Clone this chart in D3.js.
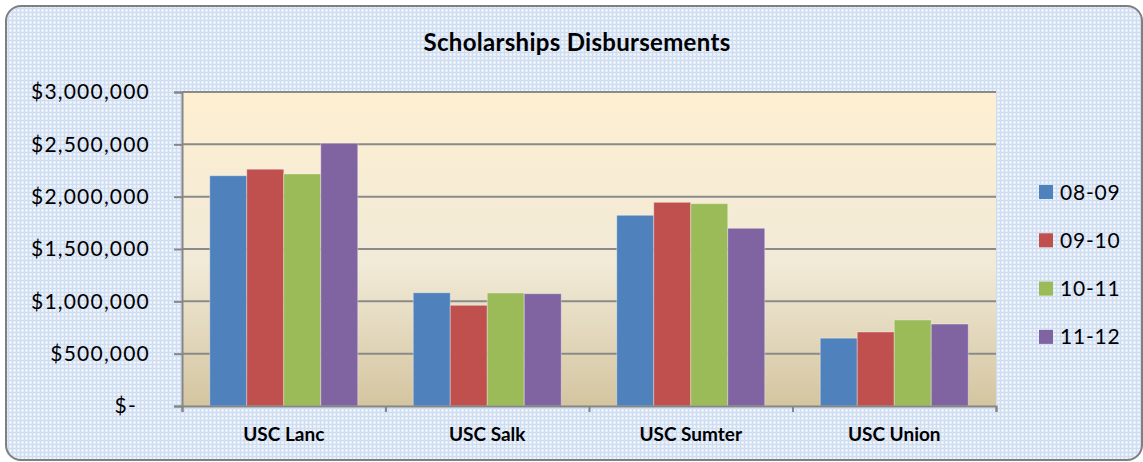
<!DOCTYPE html>
<html>
<head>
<meta charset="utf-8">
<script src="https://cdn.jsdelivr.net/npm/d3@7"></script>
<style>
  body { margin: 0; background: #fff; }
  text { font-family: Lato, "Open Sans", sans-serif; fill: #000; }
</style>
</head>
<body>
<div id="chart"></div>
<script>
// chart data
var categories = ["USC Lanc", "USC Salk", "USC Sumter", "USC Union"];
var seriesNames = ["08-09", "09-10", "10-11", "11-12"];
var values0809 = [2200000, 1082000, 1822000, 648000];
var values0910 = [2262000, 962000, 1946000, 707000];
var values1011 = [2217000, 1080000, 1933000, 822000];
var values1112 = [2510000, 1073000, 1698000, 783000];
var yTickValues = [0, 500000, 1000000, 1500000, 2000000, 2500000, 3000000];
var colors = ["#4F81BD", "#C0504D", "#9BBB59", "#8064A2"];

var seriesValues = [values0809, values0910, values1011, values1112];

var svgWidth = 1143;
var svgHeight = 462;

// plot area edges
var margin = { top: 92, right: 147, bottom: 56, left: 182 };
var width = svgWidth - margin.left - margin.right;
var height = svgHeight - margin.top - margin.bottom;

var svg = d3.select("#chart")
  .append("svg")
  .attr("width", svgWidth)
  .attr("height", svgHeight);

var defs = svg.append("defs");

// checked blue background
var pat = defs.append("pattern")
  .attr("id", "check")
  .attr("width", 4)
  .attr("height", 4)
  .attr("patternUnits", "userSpaceOnUse");
pat.append("rect").attr("width", 4).attr("height", 4).attr("fill", "#E4ECF8");
pat.append("rect").attr("width", 4).attr("height", 1).attr("fill", "#CFDDF2");
pat.append("rect").attr("width", 1).attr("height", 4).attr("fill", "#CFDDF2");
pat.append("rect").attr("x", 2).attr("y", 2).attr("width", 1).attr("height", 1).attr("fill", "#FFFFFF");

// plot area gradient
var grad = defs.append("linearGradient")
  .attr("id", "plotGrad")
  .attr("x1", 0).attr("y1", 0).attr("x2", 0).attr("y2", 1);
grad.append("stop").attr("offset", "0%").attr("stop-color", "#FEEFD1");
grad.append("stop").attr("offset", "55%").attr("stop-color", "#F1EAD7");
grad.append("stop").attr("offset", "100%").attr("stop-color", "#D4C5A0");

// chart frame
svg.append("rect")
  .attr("x", 6)
  .attr("y", 6)
  .attr("width", 1136)
  .attr("height", 454)
  .attr("rx", 15)
  .attr("fill", "url(#check)")
  .attr("stroke", "#7F7F7F")
  .attr("stroke-width", 2);

var chartGroup = svg.append("g")
  .attr("transform", `translate(${margin.left}, ${margin.top})`);

chartGroup.append("rect")
  .attr("width", width)
  .attr("height", height)
  .attr("fill", "url(#plotGrad)");

// scales
var x0 = d3.scaleBand()
  .domain(categories)
  .range([0, width])
  .padding(0);

var x1 = d3.scaleBand()
  .domain(seriesNames)
  .range([0, x0.bandwidth()])
  .paddingInner(0)
  .paddingOuter(0.75);

var yLinearScale = d3.scaleLinear()
  .domain([0, 3000000])
  .range([height, 0]);

// gridlines
chartGroup.append("g")
  .selectAll("line")
  .data(yTickValues.slice(1))
  .enter()
  .append("line")
  .attr("x1", 0)
  .attr("x2", width)
  .attr("y1", d => yLinearScale(d))
  .attr("y2", d => yLinearScale(d))
  .attr("stroke", "#8A8A8A")
  .attr("stroke-width", 2);

// bars
var rows = categories.map(function(c, i) {
  return seriesNames.map(function(s, j) {
    return { category: c, series: s, value: seriesValues[j][i], color: colors[j] };
  });
});

chartGroup.selectAll("g.cluster")
  .data(rows)
  .enter()
  .append("g")
  .attr("class", "cluster")
  .attr("transform", (d, i) => `translate(${x0(categories[i])}, 0)`)
  .selectAll("rect")
  .data(d => d)
  .enter()
  .append("rect")
  .attr("x", d => x1(d.series))
  .attr("y", d => yLinearScale(d.value))
  .attr("width", x1.bandwidth())
  .attr("height", d => height - yLinearScale(d.value))
  .attr("fill", d => d.color)
  .attr("stroke", "rgba(255,255,255,0.35)")
  .attr("stroke-width", 1);

// y axis
var yAxis = d3.axisLeft(yLinearScale)
  .tickValues(yTickValues)
  .tickSize(8)
  .tickPadding(24)
  .tickFormat(d => d === 0 ? "$-" : "$" + d3.format(",")(d));

var yAxisG = chartGroup.append("g").call(yAxis);
yAxisG.select(".domain").attr("stroke", "#868686").attr("stroke-width", 2);
yAxisG.selectAll(".tick line").attr("stroke", "#868686").attr("stroke-width", 2);
yAxisG.selectAll(".tick text")
  .attr("font-size", 21)
  .attr("font-family", "Lato, sans-serif")
  .attr("fill", "#000")
  .style("letter-spacing", "1.2px")
  .attr("dx", d => d === 0 ? -13 : 0);

// x axis: ticks on category boundaries
var xEdge = d3.scaleLinear().domain([0, categories.length]).range([0, width]);
var xAxis = d3.axisBottom(xEdge)
  .ticks(categories.length)
  .tickSize(6)
  .tickFormat("");

var xAxisG = chartGroup.append("g")
  .attr("transform", `translate(0, ${height})`)
  .call(xAxis);
xAxisG.select(".domain").attr("stroke", "#868686").attr("stroke-width", 2);
xAxisG.selectAll(".tick line").attr("stroke", "#868686").attr("stroke-width", 2);

// category labels
chartGroup.append("g")
  .selectAll("text")
  .data(categories)
  .enter()
  .append("text")
  .attr("x", d => x0(d) + x0.bandwidth() / 2)
  .attr("y", height + 35)
  .attr("text-anchor", "middle")
  .attr("font-size", 19)
  .attr("font-weight", "bold")
  .text(d => d);

// title
svg.append("text")
  .attr("x", 577)
  .attr("y", 51)
  .attr("text-anchor", "middle")
  .attr("font-size", 24)
  .attr("font-weight", "bold")
  .style("letter-spacing", "0.3px")
  .text("Scholarships Disbursements");

// legend
var legend = svg.append("g")
  .selectAll("g")
  .data(seriesNames)
  .enter()
  .append("g")
  .attr("transform", (d, i) => `translate(1039, ${192 + i * 48.3})`);

legend.append("rect")
  .attr("y", -7)
  .attr("width", 14)
  .attr("height", 14)
  .attr("fill", (d, i) => colors[i]);

legend.append("text")
  .attr("x", 21)
  .attr("y", 7.5)
  .attr("font-size", 21)
  .style("letter-spacing", "0.8px")
  .text(d => d);
</script>
</body>
</html>
